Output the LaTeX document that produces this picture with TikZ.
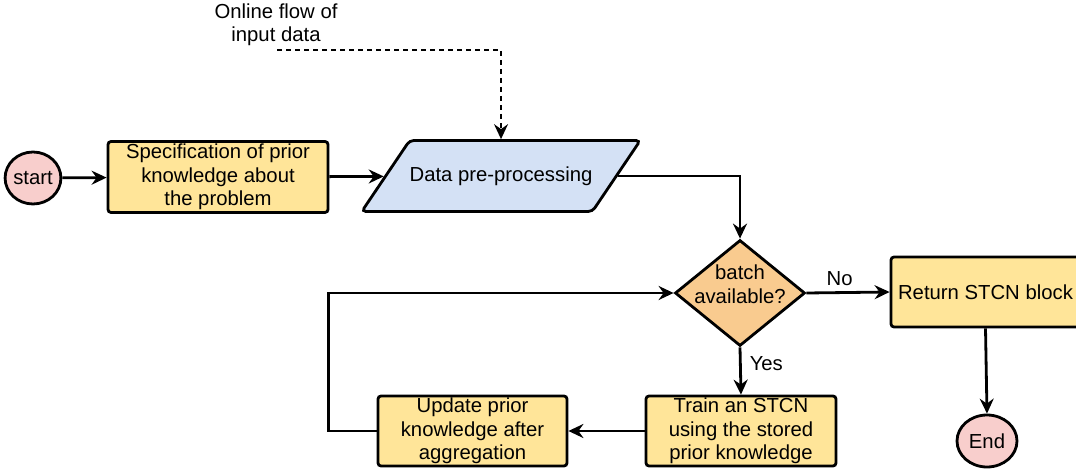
\documentclass[tikz,border=0pt]{standalone}
\usepackage{fontspec}
\setmainfont{Liberation Sans}
\usetikzlibrary{shapes.geometric,arrows.meta}
\definecolor{boxyellow}{HTML}{FFE599}
\definecolor{prepblue}{HTML}{D4E1F5}
\definecolor{termpink}{HTML}{F8CECC}
\definecolor{askorange}{HTML}{F9CB8F}
\begin{document}
\begin{tikzpicture}[x=1pt,y=-1pt,
    every node/.style={font=\fontsize{20.3}{23.5}\selectfont,align=center,inner sep=0pt},
    box/.style={draw,line width=2.8pt,rounded corners=3pt,fill=boxyellow,minimum height=71pt},
    term/.style={draw,line width=2.8pt,ellipse,fill=termpink,minimum height=52pt},
    flow/.style={line width=2.8pt,-{Stealth[length=15pt,width=14pt,inset=5pt]}}]
    \useasboundingbox (0,0) rectangle (1076,470);
    \node[term,minimum width=50pt] (start) at (33,178) {start};
    \node[box,minimum width=220pt] (spec) at (218,177) {Specification of prior\\knowledge about\\the problem};
    \node[draw,line width=2.8pt,rounded corners=4pt,fill=prepblue,trapezium,trapezium left angle=56,
        trapezium right angle=124,trapezium stretches body,inner xsep=0pt,inner ysep=26pt,
        minimum width=278pt] (prep) at (501,176) {Data pre-processing};
    \node (flowtxt) at (276,25) {Online flow of\\input data};
    \coordinate (flowin) at (277,50);
    \node[draw,line width=2.8pt,diamond,fill=askorange,minimum width=130pt,minimum height=106pt] (batch) at (740,293) {};
    \node[yshift=9pt] (batchtxt) at (batch) {batch\\available?};
    \node[box,minimum width=189pt,minimum height=70pt] (ret) at (985.5,292) {Return STCN block};
    \node[term,minimum width=60pt] (stop) at (987,441) {End};
    \node[box,minimum width=190pt,minimum height=70pt] (train) at (741,431) {Train an STCN\\using the stored\\prior knowledge};
    \node[box,minimum width=189pt,minimum height=70pt] (upd) at (472.5,431) {Update prior\\knowledge after\\aggregation};
    \draw[flow] (start) -- (spec);
    \draw[flow] (spec) -- (prep);
    \draw[flow,line width=1.5pt,dash pattern=on 5pt off 4pt] (flowin) -| (prep.north);
    \draw[flow] (prep.east) -| (batch.north);
    \draw[flow] (batch.east) -- node[above=6pt,pos=0.4] {No} (ret.west);
    \draw[flow] (batch.south) -- node[right=8pt,pos=0.35] {Yes} (train.north);
    \draw[flow] (ret.south) -- (stop.north);
    \draw[flow] (train.west) -- (upd.east);
    \draw[flow] (upd.west) -- ++(-48,0) |- (batch.west);
\end{tikzpicture}
\end{document}
